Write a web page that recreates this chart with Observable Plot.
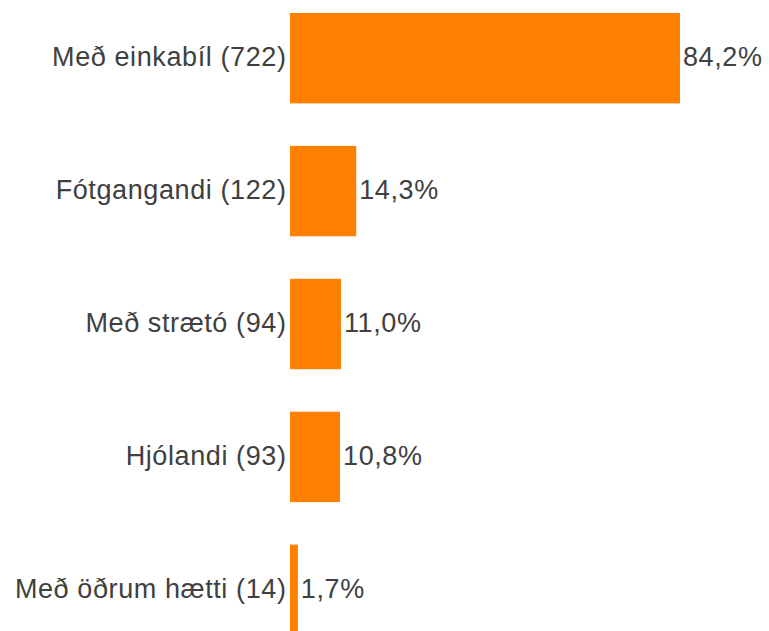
<!DOCTYPE html>
<html><head><meta charset="utf-8">
<script src="https://cdn.jsdelivr.net/npm/d3@7"></script>
<script src="https://cdn.jsdelivr.net/npm/@observablehq/plot@0.6"></script>
<style>body{margin:0;background:#fff;} svg{display:block;}</style>
</head><body><div id="chart"></div>
<script>
const categories = ["Með einkabíl", "Fótgangandi", "Með strætó", "Hjólandi", "Með öðrum hætti"];
const counts = [722, 122, 94, 93, 14];
const percents = [84.2, 14.3, 11.0, 10.8, 1.7];

const data = categories.map((c, i) => ({cat: c, n: counts[i], p: percents[i], label: `${c} (${counts[i]})`}));
const fmt = v => v.toFixed(1).replace(".", ",") + "%";

const chart = Plot.plot({
  width: 769, height: 631,
  marginLeft: 290, marginRight: 89, marginTop: 0, marginBottom: 0,
  style: {fontFamily: "'Liberation Sans', Arial, sans-serif", fontSize: "27px", background: "#fff", letterSpacing: "0.6px"},
  x: {domain: [0, 84.2], axis: null},
  y: {domain: data.map(d => d.label), range: [13, 635], paddingInner: 0.32, paddingOuter: 0, round: false, axis: null},
  marks: [
    Plot.barX(data, {x: "p", y: "label", fill: "#FF8000"}),
    Plot.text(data, {x: 0, y: "label", text: "label", textAnchor: "end", dx: -4, dy: -1, fill: "#404040", fontSize: 27}),
    Plot.text(data, {x: "p", y: "label", text: d => fmt(d.p), textAnchor: "start", dx: 2.5, dy: -1, fill: "#404040", fontSize: 27})
  ]
});
document.getElementById("chart").appendChild(chart);
</script></body></html>
